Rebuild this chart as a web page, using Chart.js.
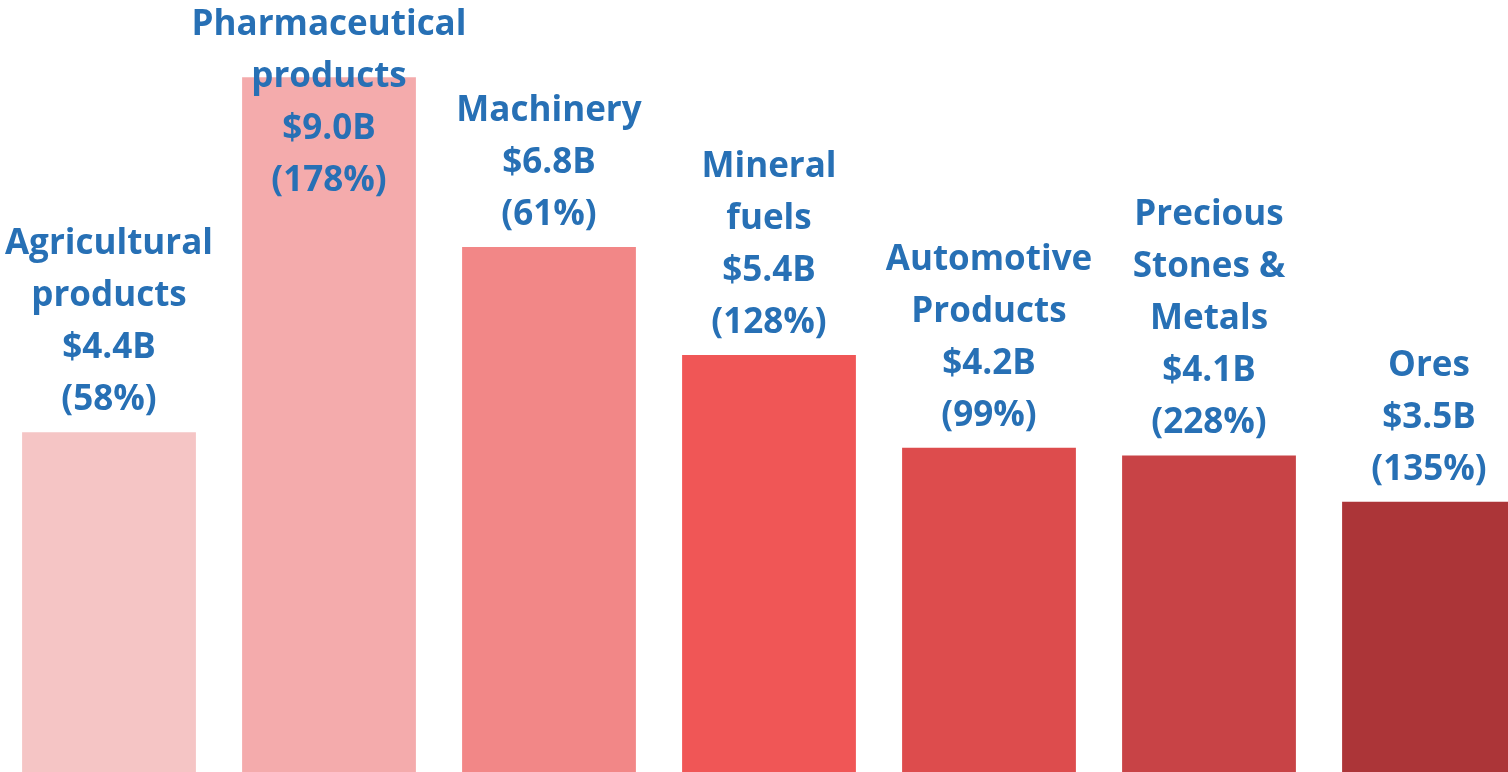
<!DOCTYPE html>
<html lang="en">
<head>
    <meta charset="UTF-8">
    <title>Exports by category</title>
    <script src="https://cdn.jsdelivr.net/npm/chart.js"></script>
    <style>
        html, body {
            margin: 0;
            padding: 0;
            background: #ffffff;
            overflow: hidden;
        }

        .wrap {
            position: absolute;
            left: -1px;
            top: 0;
            width: 1540px;
            height: 772px;
        }
    </style>
</head>
<body>
    <div class="wrap">
        <canvas id="exportsChart" width="1540" height="772"></canvas>
    </div>

    <script>
        // category names (one entry per line of the label)
        const categories = [
            ['Agricultural', 'products'],
            ['Pharmaceutical', 'products'],
            ['Machinery'],
            ['Mineral', 'fuels'],
            ['Automotive', 'Products'],
            ['Precious', 'Stones &', 'Metals'],
            ['Ores']
        ];
        // export value, billions of dollars
        const values = [4.4, 9.0, 6.8, 5.4, 4.2, 4.1, 3.5];
        // growth shown in brackets
        const growth = [58, 178, 61, 128, 99, 228, 135];
        const barColors = ['#F5C5C5', '#F4ABAC', '#F28787', '#F05656', '#DD4C4D', '#C84346', '#AC3538'];

        // draws the multi line label above each bar
        const barLabels = {
            id: 'barLabels',
            afterDatasetsDraw(chart) {
                const ctx = chart.ctx;
                const meta = chart.getDatasetMeta(0);
                const lineStep = 52;
                ctx.save();
                ctx.fillStyle = '#2770B5';
                ctx.font = 'bold 35px "Open Sans", Lato, sans-serif';
                ctx.textAlign = 'center';
                ctx.textBaseline = 'alphabetic';
                meta.data.forEach((bar, i) => {
                    const lines = categories[i].concat(['$' + values[i].toFixed(1) + 'B', '(' + growth[i] + '%)']);
                    let first = bar.y - 22 - (lines.length - 1) * lineStep;
                    if (first < 35) first = 35;
                    lines.forEach((txt, j) => {
                        ctx.fillText(txt, bar.x, first + j * lineStep);
                    });
                });
                ctx.restore();
            }
        };

        new Chart(document.getElementById('exportsChart'), {
            type: 'bar',
            data: {
                labels: categories.map(c => c.join(' ')),
                datasets: [{
                    data: values,
                    backgroundColor: barColors,
                    borderWidth: 0,
                    barPercentage: 0.79,
                    categoryPercentage: 1
                }]
            },
            options: {
                responsive: false,
                animation: false,
                layout: { padding: 0 },
                plugins: {
                    legend: { display: false },
                    tooltip: { enabled: false }
                },
                scales: {
                    x: { display: false },
                    y: { display: false, min: 0, max: 10 }
                }
            },
            plugins: [barLabels]
        });
    </script>
</body>
</html>
